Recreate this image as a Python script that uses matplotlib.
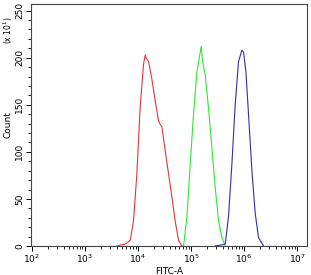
import matplotlib
matplotlib.use('Agg')
import matplotlib.pyplot as plt
from matplotlib.ticker import LogLocator, MultipleLocator, NullFormatter
import numpy as np

# -- histogram outlines (log10 of FITC-A, count / 10) --------------------------
red_log = [3.60, 3.67, 3.76, 3.855, 3.917, 3.98, 4.04, 4.105, 4.137, 4.15, 4.20, 4.26,
           4.326, 4.388, 4.42, 4.45, 4.514, 4.576, 4.64, 4.70, 4.765, 4.83]
red_count = [0, 1, 2, 6, 27, 77, 146, 193, 203, 200, 196, 178,
             154, 133, 129, 127, 101, 77, 52, 27, 6, 0]

green_log = [4.859, 4.923, 4.985, 5.047, 5.111, 5.192, 5.217, 5.267, 5.33,
             5.394, 5.456, 5.518, 5.582, 5.644]
green_count = [0, 31, 87, 140, 185, 212, 196, 182, 146,
               104, 62, 27, 9, 0]

blue_log = [5.456, 5.55, 5.644, 5.706, 5.77, 5.832, 5.895, 5.959, 5.989,
            6.034, 6.083, 6.147, 6.209, 6.271, 6.365]
blue_count = [0, 1, 2, 31, 87, 150, 196, 208, 206,
              185, 140, 80, 35, 9, 0]

y_ticks = [0, 50, 100, 150, 200, 250]

fig = plt.figure(figsize=(3.11, 2.75), dpi=100)
ax = fig.add_axes([31 / 311, 29 / 275, 276 / 311, 242 / 275])

for logs, counts, color in [
    (red_log, red_count, '#e8333c'),
    (green_log, green_count, '#2ee82e'),
    (blue_log, blue_count, '#2f2fa8'),
]:
    ax.plot(10 ** np.array(logs), counts, color=color, lw=0.8)

ax.set_xscale('log')
ax.set_xlim(10 ** 1.985, 10 ** 7.185)
ax.set_ylim(0, 257)

ax.xaxis.set_major_locator(LogLocator(base=10, numticks=10))
ax.xaxis.set_minor_locator(LogLocator(base=10, subs=np.arange(2, 10), numticks=20))
ax.xaxis.set_minor_formatter(NullFormatter())
ax.set_yticks(y_ticks)
ax.yaxis.set_minor_locator(MultipleLocator(10))

ax.tick_params(which='major', direction='out', length=3.5, width=0.7, labelsize=6.5, pad=1.5)
ax.tick_params(which='minor', direction='out', length=2, width=0.6)
for lbl in ax.get_yticklabels():
    lbl.set_rotation(90)
    lbl.set_va('center')

for s in ax.spines.values():
    s.set_linewidth(0.8)
    s.set_color('#444444')

ax.set_xlabel('FITC-A', fontsize=6.5, labelpad=1)
ax.set_ylabel('Count', fontsize=6.5, labelpad=2)
fig.text(8 / 311, 1 - 30 / 275, r'(x 10$^1$)', rotation=90, fontsize=5.5,
         ha='center', va='center')

fig.savefig('out.png', dpi=100)
